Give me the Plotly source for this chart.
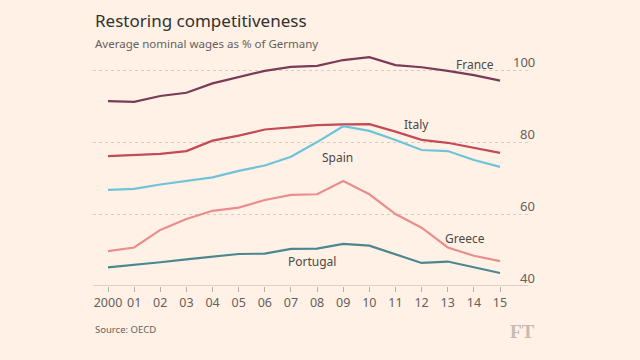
import plotly.graph_objects as go

years = list(range(2000, 2016))
tick_labels = ["2000", "01", "02", "03", "04", "05", "06", "07", "08", "09",
               "10", "11", "12", "13", "14", "15"]

france = [91.4, 91.2, 92.8, 93.7, 96.3, 98.0, 99.8, 100.9, 101.2, 102.8,
          103.6, 101.4, 100.8, 99.8, 98.6, 97.1]
italy = [76.1, 76.3, 76.7, 77.5, 80.4, 81.8, 83.5, 84.1, 84.7, 84.9,
         85.0, 82.9, 80.6, 79.8, 78.5, 77.0]
spain = [66.7, 67.0, 68.2, 69.1, 70.2, 72.0, 73.5, 75.9, 80.0, 84.4,
         83.1, 80.6, 77.8, 77.5, 75.0, 73.1]
greece = [49.7, 50.7, 55.6, 58.6, 60.9, 61.8, 63.9, 65.3, 65.5, 69.2,
          65.5, 60.0, 56.2, 50.7, 48.4, 46.9]
portugal = [45.2, 45.8, 46.6, 47.4, 48.1, 48.9, 49.0, 50.3, 50.4, 51.7,
            51.2, 48.9, 46.4, 46.8, 45.1, 43.6]

y_ticks = [40, 60, 80, 100]

series = [
    ("France", france, "#7b3a58", 2014.05, 101.7),
    ("Italy", italy, "#c44a55", 2011.8, 85.0),
    ("Spain", spain, "#6ec3d9", 2008.8, 75.8),
    ("Greece", greece, "#eb8d8f", 2013.66, 53.1),
    ("Portugal", portugal, "#4b8790", 2007.8, 46.7),
]

FONT = "Noto Sans"
fig = go.Figure()
for name, vals, col, lx, ly in series:
    fig.add_trace(go.Scatter(x=years, y=vals, mode="lines", name=name,
                             line=dict(color=col, width=2.2),
                             hoverinfo="skip", showlegend=False))
    fig.add_annotation(x=lx, y=ly, text=name, showarrow=False,
                       font=dict(family=FONT, size=12, color="#4d4845"),
                       xanchor="center", yanchor="middle")

for v in y_ticks:
    fig.add_annotation(x=1.02, xref="paper", y=v, yref="y", text=str(v),
                       showarrow=False, xanchor="right", yanchor="bottom",
                       yshift=-3,
                       font=dict(family=FONT, size=13, color="#66605c"))

fig.add_annotation(x=0, xref="paper", y=1.0, yref="paper", yshift=35,
                   text="Restoring competitiveness", showarrow=False,
                   xanchor="left", yanchor="middle",
                   font=dict(family=FONT, size=17, color="#33302e"))
fig.add_annotation(x=0, xref="paper", y=1.0, yref="paper", yshift=12,
                   text="Average nominal wages as % of Germany", showarrow=False,
                   xanchor="left", yanchor="middle",
                   font=dict(family=FONT, size=11.5, color="#66605c"))
fig.add_annotation(x=0, xref="paper", y=0, yref="paper", yshift=-43,
                   text="Source: OECD", showarrow=False,
                   xanchor="left", yanchor="middle",
                   font=dict(family=FONT, size=9.5, color="#66605c"))
fig.add_annotation(x=1.02, xref="paper", y=0, yref="paper", yshift=-45,
                   text="<b>FT</b>", showarrow=False,
                   xanchor="right", yanchor="middle",
                   font=dict(family="Liberation Serif", size=19, color="#c5bbb2"))

fig.update_layout(
    width=640, height=360,
    paper_bgcolor="#fff1e5", plot_bgcolor="#fff1e5",
    margin=dict(l=93, r=112, t=55, b=74),
    xaxis=dict(range=[1999.426, 2016.07], tickvals=years, ticktext=tick_labels,
               showgrid=False, zeroline=False, showline=False,
               ticks="outside", ticklen=5, tickcolor="#b8aea6",
               tickfont=dict(family=FONT, size=12.5, color="#66605c"),
               fixedrange=True),
    yaxis=dict(range=[40, 104.2], tickvals=y_ticks, showticklabels=False,
               showgrid=True, gridcolor="#d6ccc2", griddash="dot", gridwidth=1,
               zeroline=False, showline=False, fixedrange=True),
    shapes=[dict(type="line", xref="paper", yref="y", x0=0, x1=1, y0=40, y1=40,
                 line=dict(color="#b8aea6", width=1))],
)

fig.write_html("out.html", config={"displayModeBar": False},
               post_script="document.body.style.margin='0';document.body.style.background='#fff1e5';")
